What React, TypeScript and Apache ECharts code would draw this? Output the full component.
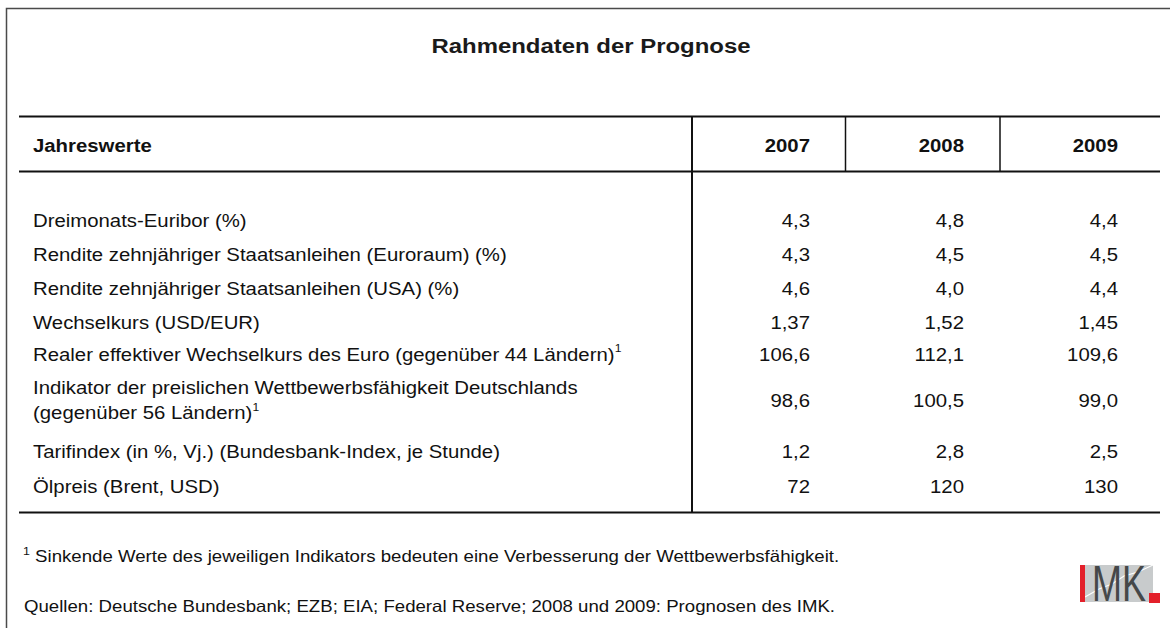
import React, { useEffect, useRef } from "react";
import * as echarts from "echarts";

const title = "Rahmendaten der Prognose";
const headerLabel = "Jahreswerte";
const years = ["2007", "2008", "2009"];
const rowLabels = [
  "Dreimonats-Euribor (%)",
  "Rendite zehnjähriger Staatsanleihen (Euroraum) (%)",
  "Rendite zehnjähriger Staatsanleihen (USA) (%)",
  "Wechselkurs (USD/EUR)",
  "Realer effektiver Wechselkurs des Euro (gegenüber 44 Ländern){sup|1}",
  "Indikator der preislichen Wettbewerbsfähigkeit Deutschlands\n(gegenüber 56 Ländern){sup|1}",
  "Tarifindex (in %, Vj.) (Bundesbank-Index, je Stunde)",
  "Ölpreis (Brent, USD)",
];
const values2007 = [4.3, 4.3, 4.6, 1.37, 106.6, 98.6, 1.2, 72];
const values2008 = [4.8, 4.5, 4.0, 1.52, 112.1, 100.5, 2.8, 120];
const values2009 = [4.4, 4.5, 4.4, 1.45, 109.6, 99.0, 2.5, 130];
const decimals = [1, 1, 1, 2, 1, 1, 1, 0];
const footnote = "Sinkende Werte des jeweiligen Indikators bedeuten eine Verbesserung der Wettbewerbsfähigkeit.";
const sources = "Quellen: Deutsche Bundesbank; EZB; EIA; Federal Reserve; 2008 und 2009: Prognosen des IMK.";

const FONT = "'Liberation Sans', Arial, Helvetica, sans-serif";

function fmt(v: number, d: number) {
  return v.toFixed(d).replace(".", ",");
}

export default function App() {
  const ref = useRef<HTMLDivElement>(null);
  useEffect(() => {
    if (!ref.current) return;
    const chart = echarts.init(ref.current, null, { renderer: "svg" });
    const rowY = [220, 254, 288, 322, 354, 400, 451, 486];
    const colRight = [810, 964, 1118];
    const allValues = [values2007, values2008, values2009];
    const BODY = 18.5;
    const SX = 1.1;
    const supRich = {
      sup: { fontSize: 11, fontFamily: FONT, fill: "#111", padding: [0, 0, 11, 0] },
    };
    const elements: any[] = [];
    // outer frame
    elements.push({
      type: "rect",
      shape: { x: 6.5, y: 8.5, width: 1300, height: 800 },
      style: { fill: "none", stroke: "#4a4a4a", lineWidth: 1.5 },
    });
    // title
    elements.push({
      type: "text",
      x: 591,
      y: 46,
      scaleX: 1.14,
      style: { text: title, fontSize: 21, fontWeight: "bold", fontFamily: FONT, fill: "#1a1a1a", align: "center", verticalAlign: "middle" },
    });
    // horizontal lines
    const hl = (y: number) => ({
      type: "line",
      shape: { x1: 19, y1: y, x2: 1160, y2: y },
      style: { stroke: "#111", lineWidth: 2 },
    });
    elements.push(hl(116.5), hl(171.5), hl(512.5));
    // vertical lines
    elements.push({ type: "line", shape: { x1: 692, y1: 116, x2: 692, y2: 512 }, style: { stroke: "#111", lineWidth: 2 } });
    elements.push({ type: "line", shape: { x1: 845.5, y1: 116, x2: 845.5, y2: 171 }, style: { stroke: "#111", lineWidth: 1.5 } });
    elements.push({ type: "line", shape: { x1: 1000, y1: 116, x2: 1000, y2: 171 }, style: { stroke: "#111", lineWidth: 1.5 } });
    // header
    elements.push({
      type: "text",
      x: 33,
      y: 145,
      scaleX: SX,
      style: { text: headerLabel, fontSize: BODY, fontWeight: "bold", fontFamily: FONT, fill: "#111", align: "left", verticalAlign: "middle" },
    });
    years.forEach((yr, i) => {
      elements.push({
        type: "text",
        x: colRight[i],
        y: 145,
        scaleX: SX,
        style: { text: yr, fontSize: BODY, fontWeight: "bold", fontFamily: FONT, fill: "#111", align: "right", verticalAlign: "middle" },
      });
    });
    // rows
    rowLabels.forEach((lab, r) => {
      elements.push({
        type: "text",
        x: 33,
        y: rowY[r],
        scaleX: SX,
        style: {
          text: lab,
          fontSize: BODY,
          fontFamily: FONT,
          fill: "#111",
          align: "left",
          verticalAlign: "middle",
          lineHeight: 25,
          rich: supRich,
        },
      });
      allValues.forEach((arr, c) => {
        elements.push({
          type: "text",
          x: colRight[c],
          y: rowY[r],
          scaleX: SX,
          style: { text: fmt(arr[r], decimals[r]), fontSize: BODY, fontFamily: FONT, fill: "#111", align: "right", verticalAlign: "middle" },
        });
      });
    });
    // footnotes
    elements.push({
      type: "text",
      x: 23,
      y: 556,
      scaleX: 1.13,
      style: {
        text: "{sup|1} " + footnote,
        fontSize: 16.5,
        fontFamily: FONT,
        fill: "#111",
        align: "left",
        verticalAlign: "middle",
        rich: { sup: { fontSize: 11, fontFamily: FONT, fill: "#111", padding: [0, 0, 10, 0] } },
      },
    });
    elements.push({
      type: "text",
      x: 24,
      y: 606,
      scaleX: 1.13,
      style: { text: sources, fontSize: 16.5, fontFamily: FONT, fill: "#111", align: "left", verticalAlign: "middle" },
    });
    // IMK logo
    elements.push({ type: "rect", shape: { x: 1080, y: 565, width: 73, height: 37 }, style: { fill: "#c8cbcc" } });
    elements.push({
      type: "polyline",
      shape: { points: [[1085, 597], [1099, 589], [1112, 584], [1124, 576], [1138, 572], [1153, 565]] },
      style: { stroke: "#ffffff", lineWidth: 1.2, fill: "none" },
    });
    elements.push({ type: "rect", shape: { x: 1080, y: 565, width: 5, height: 37 }, style: { fill: "#e3202a" } });
    elements.push({
      type: "text",
      x: 1092,
      y: 584,
      scaleX: 0.72,
      style: { text: "MK", fontSize: 50, fontFamily: FONT, fill: "#454849", align: "left", verticalAlign: "middle" },
    });
    elements.push({ type: "rect", shape: { x: 1149, y: 593, width: 11, height: 10 }, style: { fill: "#e3202a" } });

    chart.setOption({
      animation: false,
      backgroundColor: "#ffffff",
      graphic: { elements },
    });
    return () => chart.dispose();
  }, []);
  return <div ref={ref} style={{ position: "fixed", left: 0, top: 0, width: 1170, height: 628 }} />;
}
